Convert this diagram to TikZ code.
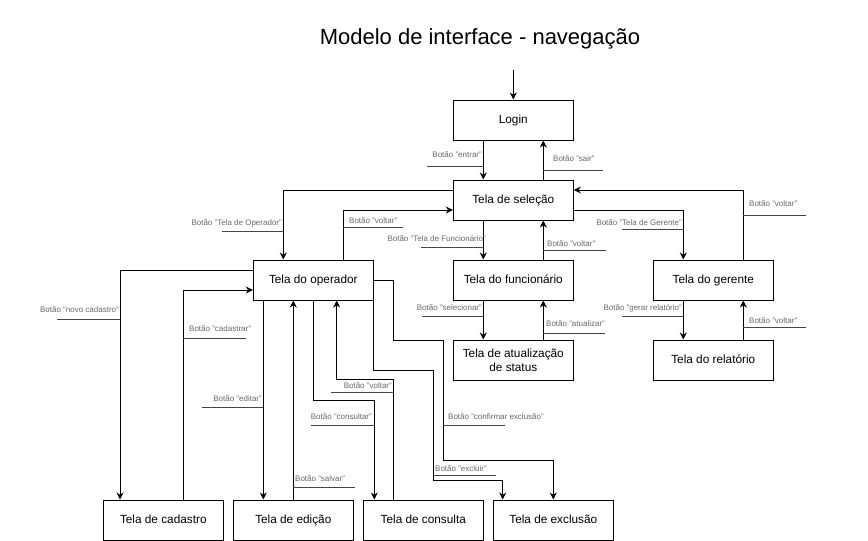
\documentclass[tikz,border=0pt]{standalone}
\usepackage{fontspec}
\setmainfont{Liberation Sans}
\usetikzlibrary{arrows.meta}
\definecolor{lblc}{RGB}{105,105,105}
\definecolor{ulc}{RGB}{70,70,70}
\begin{document}
\begin{tikzpicture}[x=1pt,y=-1pt,
  boxbase/.style={draw,line width=1pt,fill=white,minimum width=120pt,minimum height=40pt,inner sep=2pt,font=\fontsize{11.8}{13.8}\selectfont,align=center},
  box/.style={boxbase,text height=9.6pt,text depth=2.6pt},
  conn/.style={line width=1pt,-{Stealth[length=7pt,width=7pt]}},
  lab/.style={font=\fontsize{8}{9}\selectfont,text=lblc,inner sep=0pt},
  ul/.style={draw=ulc,line width=0.9pt}]
\useasboundingbox (0,0) rectangle (868,541);
\fill[white] (0,0) rectangle (868,541);

\node[font=\fontsize{22}{26}\selectfont,anchor=base] (title) at (480,44) {Modelo de interface - navegação};

% boxes
\node[box] (login) at (513.3,120) {Login};
\node[box] (sel)   at (513.3,200) {Tela de seleção};
\node[box] (oper)  at (313.3,280) {Tela do operador};
\node[box] (func)  at (513.3,280) {Tela do funcionário};
\node[box] (ger)   at (713.3,280) {Tela do gerente};
\node[boxbase] (atual) at (513.3,360) {Tela de atualização\\de status};
\node[box] (rel)   at (713.3,360) {Tela do relatório};
\node[box] (cad)   at (163.3,520) {Tela de cadastro};
\node[box] (edi)   at (293.3,520) {Tela de edição};
\node[box] (cons)  at (423.3,520) {Tela de consulta};
\node[box] (excl)  at (553.3,520) {Tela de exclusão};

% connectors
\coordinate (start) at (513.3,70);
\draw[conn] (start) -- (login.north);
\draw[conn] ([xshift=-30pt]login.south) -- ([xshift=-30pt]sel.north);
\draw[conn] ([xshift=30pt]sel.north) -- ([xshift=30pt]login.south);
\draw[conn] ([yshift=10pt]sel.west) -| ([xshift=-30pt]oper.north);
\draw[conn] ([xshift=30pt]oper.north) |- ([yshift=-10pt]sel.west);
\draw[conn] ([xshift=-30pt]sel.south) -- ([xshift=-30pt]func.north);
\draw[conn] ([xshift=30pt]func.north) -- ([xshift=30pt]sel.south);
\draw[conn] ([yshift=-10pt]sel.east) -| ([xshift=-30pt]ger.north);
\draw[conn] ([xshift=30pt]ger.north) |- ([yshift=10pt]sel.east);
\draw[conn] ([xshift=-30pt]func.south) -- ([xshift=-30pt]atual.north);
\draw[conn] ([xshift=30pt]atual.north) -- ([xshift=30pt]func.south);
\draw[conn] ([xshift=-30pt]ger.south) -- ([xshift=-30pt]rel.north);
\draw[conn] ([xshift=30pt]rel.north) -- ([xshift=30pt]ger.south);
\draw[conn] ([yshift=10pt]oper.west) -| ([xshift=-43.3pt]cad.north);
\draw[conn] ([xshift=20pt]cad.north) |- ([yshift=-10pt]oper.west);
\draw[conn] ([xshift=-50pt]oper.south) -- ([xshift=-30pt]edi.north);
\draw[conn] (edi.north) -- ([xshift=-20pt]oper.south);
\draw[conn] (oper.south) -- ++(0,100) -| ([xshift=-49pt]cons.north);
\draw[conn] ([xshift=-30pt]cons.north) -- ++(0,-120) -| ([xshift=23.4pt]oper.south);
\draw[conn] (oper.south east) -- ++(0,70) -- ++(60,0) -- ++(0,110) -| ([xshift=-50.6pt]excl.north);
\draw[conn] (oper.east) -- ++(20,0) -- ++(0,60) -- ++(50,0) -- ++(0,120) -| (excl.north);

% labels
\node[lab,anchor=east] (l1) at (482,155) {Botão "entrar"};
\draw[ul] (427,166) -- (483.3,166);
\node[lab,anchor=west] (l2) at (553,159) {Botão "sair"};
\draw[ul] (543.3,170) -- (603,170);
\node[lab,anchor=east] (l3) at (282,223) {Botão "Tela de Operador"};
\draw[ul] (222,231) -- (283.3,231);
\node[lab,anchor=west] (l4) at (349,221) {Botão "voltar"};
\draw[ul] (343.3,227) -- (403,227);
\node[lab,anchor=east] (l5) at (486,239) {Botão "Tela de Funcionário"};
\draw[ul] (421,247) -- (483.3,247);
\node[lab,anchor=west] (l6) at (547,244) {Botão "voltar"};
\draw[ul] (543.3,250) -- (606,250);
\node[lab,anchor=east] (l7) at (682,223) {Botão "Tela de Gerente"};
\draw[ul] (622,229) -- (683.3,229);
\node[lab,anchor=west] (l8) at (749,204) {Botão "voltar"};
\draw[ul] (743.3,215) -- (806,215);
\node[lab,anchor=east] (l9) at (682,308) {Botão "gerar relatório"};
\draw[ul] (622,316) -- (683.3,316);
\node[lab,anchor=west] (l10) at (749,321) {Botão "voltar"};
\draw[ul] (743.3,327) -- (806,327);
\node[lab,anchor=east] (l11) at (482,308) {Botão "selecionar"};
\draw[ul] (422,316) -- (483.3,316);
\node[lab,anchor=west] (l12) at (546,324) {Botão "atualizar"};
\draw[ul] (543.3,333) -- (605,333);
\node[lab,anchor=east] (l13) at (119,310) {Botão "novo cadastro"};
\draw[ul] (57,319) -- (120,319);
\node[lab,anchor=west] (l14) at (189,329) {Botão "cadastrar"};
\draw[ul] (183.3,338) -- (246,338);
\node[lab,anchor=east] (l15) at (262,399) {Botão "editar"};
\draw[ul] (202,407) -- (263.3,407);
\node[lab,anchor=west] (l16) at (295,479) {Botão "salvar"};
\draw[ul] (293.3,487) -- (355,487);
\node[lab,anchor=east] (l17) at (372,417) {Botão "consultar"};
\draw[ul] (311,425) -- (374.3,425);
\node[lab,anchor=east] (l18) at (392,386) {Botão "voltar"};
\draw[ul] (331,392) -- (393.3,392);
\node[lab,anchor=west] (l19) at (448,417) {Botão "confirmar exclusão"};
\draw[ul] (443.3,425) -- (505,425);
\node[lab,anchor=west] (l20) at (435,469) {Botão "excluir"};
\draw[ul] (433.3,475) -- (496,475);
\end{tikzpicture}
\end{document}
